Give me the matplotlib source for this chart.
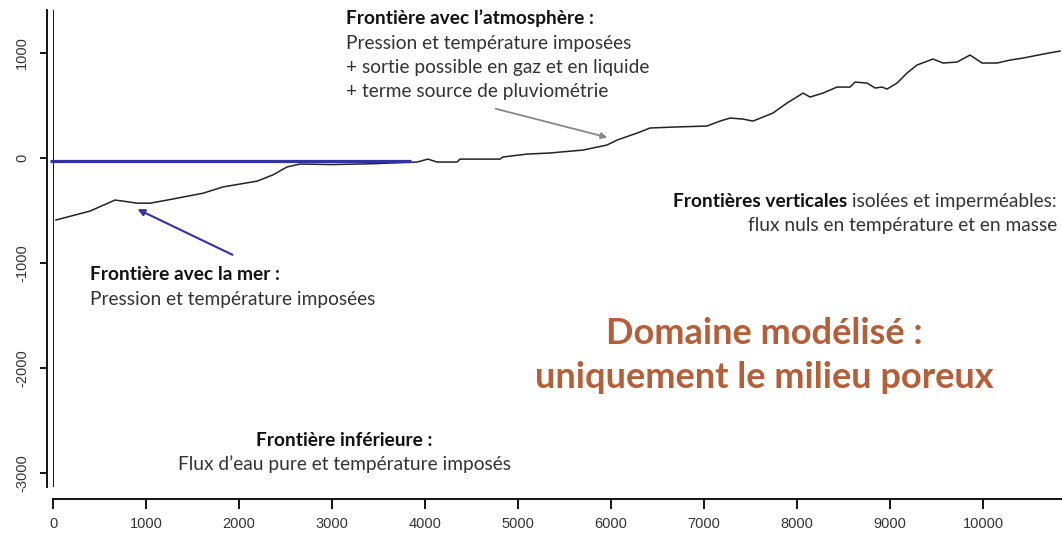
import numpy as np
import matplotlib
matplotlib.use('Agg')
import matplotlib.pyplot as plt

# profil topographique (distance en m, altitude en m)
dist = [32, 398, 667, 753, 903, 1043, 1290, 1613, 1828, 2194, 2366, 2516, 2656,
        3000, 3400, 3914, 4032, 4129, 4344, 4376, 4806, 4839, 5097, 5344,
        5452, 5699, 5957, 6065, 6312, 6419, 6667, 7032, 7172, 7280, 7419, 7527,
        7742, 7892, 8032, 8065, 8140, 8280, 8430, 8570, 8624, 8753, 8839, 8914,
        8968, 9075, 9183, 9290, 9462, 9570, 9720, 9860, 9989, 10151, 10290,
        10430, 10645, 10828]
alti = [-590, -505, -400, -410, -430, -430, -390, -335, -275, -220, -160, -85, -57,
        -62, -55, -38, -10, -38, -38, -10, -10, 10, 38, 48,
        57, 76, 124, 171, 248, 286, 295, 305, 352, 381, 371, 352,
        429, 524, 600, 619, 581, 619, 676, 676, 724, 714, 667, 676,
        657, 714, 810, 886, 943, 905, 914, 981, 905, 905, 933,
        952, 990, 1019]

mer_x = [-32, 3850]
mer_y = [-25, -25]

xticks = [0, 1000, 2000, 3000, 4000, 5000, 6000, 7000, 8000, 9000, 10000]
yticks = [-3000, -2000, -1000, 0, 1000]

txt_font = 'Lato'
grey = '#333333'
blue = '#33339c'
brown = '#b3603a'

W, H = 1062, 548
fig = plt.figure(figsize=(W / 100, H / 100), dpi=100)
ax = fig.add_axes([53 / W, (H - 487) / H, (W - 53) / W, (487 - 10) / H])
ax.set_xlim(0, 10849)
ax.set_ylim(-3133, 1410)

for s in ['top', 'right']:
    ax.spines[s].set_visible(False)
ax.spines['left'].set_position(('outward', 4.3))
ax.spines['bottom'].set_position(('outward', 8.6))
ax.spines['left'].set_linewidth(1.3)
ax.spines['bottom'].set_linewidth(1.3)

ax.set_xticks(xticks)
ax.set_yticks(yticks)
ax.set_yticklabels([str(v) for v in yticks], rotation=90, va='center')
ax.tick_params(axis='y', length=5, width=1.3, pad=8, labelsize=10.5, labelcolor=grey)
ax.tick_params(axis='x', length=7, width=1.3, pad=6, labelsize=10.5, labelcolor=grey)
for lab in ax.get_xticklabels() + ax.get_yticklabels():
    lab.set_family('Liberation Sans')

ax.axvline(0, color='black', lw=1.3)
ax.plot(dist, alti, color='#222222', lw=1.1)
ax.plot(mer_x, mer_y, color=blue, lw=2.3, clip_on=False, solid_capstyle='butt')

# fleches
ax.annotate('', xy=(882, -476), xytext=(1957, -933),
            arrowprops=dict(arrowstyle='-|>', color=blue, lw=1.5, mutation_scale=10))
ax.annotate('', xy=(5989, 190), xytext=(4731, 476),
            arrowprops=dict(arrowstyle='-|>', color='#888888', lw=1.3, mutation_scale=9))


def ftxt(x, y, s, bold=False, ha='left', size=13.8, color=grey):
    return fig.text(x / W, 1 - y / H, s, ha=ha, va='center', fontsize=size,
                    family=txt_font, fontweight='bold' if bold else 'normal',
                    color='#111111' if bold else color)


ftxt(346, 18, "Frontière avec l\u2019atmosphère :", bold=True)
ftxt(346, 43, "Pression et température imposées")
ftxt(346, 67, "+ sortie possible en gaz et en liquide")
ftxt(346, 91, "+ terme source de pluviométrie")

ftxt(90, 275, "Frontière avec la mer :", bold=True)
ftxt(90, 299, "Pression et température imposées")

t = ftxt(1057, 201, " isolées et imperméables:", ha='right')
ftxt(1057, 226, "flux nuls en température et en masse", ha='right')

ftxt(344, 440, "Frontière inférieure :", bold=True, ha='center')
ftxt(344, 464, "Flux d\u2019eau pure et température imposés", ha='center')

fig.text(764 / W, 1 - 333 / H, "Domaine modélisé :", ha='center', va='center',
         fontsize=26, family=txt_font, fontweight='bold', color=brown)
fig.text(764 / W, 1 - 378 / H, "uniquement le milieu poreux", ha='center', va='center',
         fontsize=26, family=txt_font, fontweight='bold', color=brown)

fig.canvas.draw()
bb = t.get_window_extent()
ftxt(bb.x0, 201, "Frontières verticales", bold=True, ha='right')

fig.savefig('out.png', dpi=100)
